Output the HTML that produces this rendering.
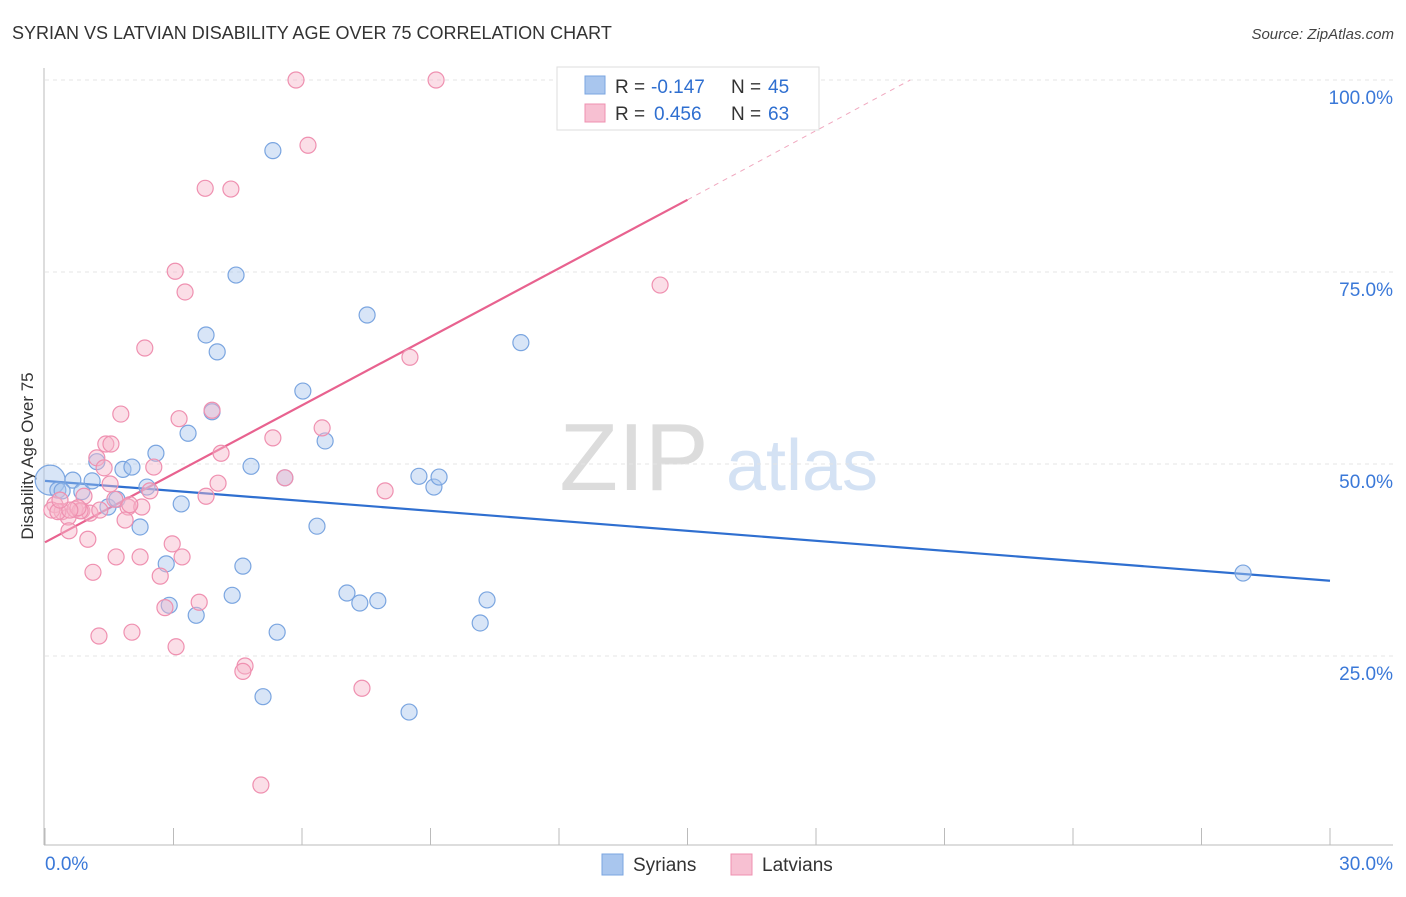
<!DOCTYPE html>
<html><head><meta charset="utf-8"><style>
body{margin:0;background:#fff;font-family:"Liberation Sans",sans-serif;}
svg text{font-family:"Liberation Sans",sans-serif;}
</style></head><body>
<svg id="chart" width="1406" height="892" viewBox="0 0 1406 892" xmlns="http://www.w3.org/2000/svg">
<text x="12" y="39" font-size="18" fill="#333">SYRIAN VS LATVIAN DISABILITY AGE OVER 75 CORRELATION CHART</text>
<text x="1394" y="39" font-size="15" fill="#444" text-anchor="end" font-style="italic">Source: ZipAtlas.com</text>
<text transform="translate(33,456) rotate(-90)" font-size="17" fill="#333" text-anchor="middle">Disability Age Over 75</text>
<g>
<text x="634" y="490" font-size="96" fill="#dcdcdc" text-anchor="middle" font-family="Liberation Serif, serif">ZIP</text>
<text x="802" y="490" font-size="72" fill="#d4e2f4" text-anchor="middle">atlas</text>
</g>
<g id="grid"></g><g id="axes"></g><g id="trend"></g><g id="points"></g>
<g>
<rect x="557" y="67" width="262" height="63" fill="#fff" stroke="#ddd"/>
<rect x="585" y="76" width="20" height="18" fill="#a9c6ee" stroke="#7aa5e0"/>
<rect x="585" y="104" width="20" height="18" fill="#f7c0d2" stroke="#ef90b0"/>
<text x="615" y="93" font-size="19" fill="#333">R =</text>
<text x="651" y="93" font-size="19" fill="#2f6fd0">-0.147</text>
<text x="731" y="93" font-size="19" fill="#333">N =</text>
<text x="768" y="93" font-size="19" fill="#2f6fd0">45</text>
<text x="615" y="120" font-size="19" fill="#333">R =</text>
<text x="654" y="120" font-size="19" fill="#2f6fd0">0.456</text>
<text x="731" y="120" font-size="19" fill="#333">N =</text>
<text x="768" y="120" font-size="19" fill="#2f6fd0">63</text>
</g>
<g>
<rect x="602" y="854" width="21" height="21" fill="#a9c6ee" stroke="#7aa5e0"/>
<text x="633" y="871" font-size="19" fill="#333">Syrians</text>
<rect x="731" y="854" width="21" height="21" fill="#f7c0d2" stroke="#ef90b0"/>
<text x="762" y="871" font-size="19" fill="#333">Latvians</text>
</g>
</svg>
<script>
const blueX=[0.12,0.30,0.65,0.86,1.10,1.21,1.47,1.68,1.82,2.03,2.22,2.38,2.59,2.83,2.90,3.18,3.34,3.53,3.76,3.90,4.02,4.37,4.46,4.62,4.81,5.09,5.32,5.42,5.60,6.02,6.35,6.54,7.05,7.35,7.52,7.77,8.50,8.73,9.08,9.20,10.16,10.32,11.11,27.97,0.40];
const blueY=[47.9,46.6,47.9,46.4,47.8,50.3,44.4,45.4,49.3,49.6,41.8,47.0,51.4,37.0,31.6,44.8,54.0,30.3,66.8,56.8,64.6,32.9,74.6,36.7,49.7,19.7,90.8,28.1,48.2,59.5,41.9,53.0,33.2,31.9,69.4,32.2,17.7,48.4,47.0,48.3,29.3,32.3,65.8,35.8,46.5];
const pinkX=[5.86,9.13,6.14,3.74,4.34,3.04,3.27,14.36,2.33,8.52,1.77,3.13,3.90,6.47,1.42,1.54,5.32,4.11,1.21,2.54,1.38,1.52,2.45,0.91,1.63,3.76,4.04,7.94,0.23,0.40,0.54,0.70,0.86,1.05,1.94,2.26,0.16,0.56,1.00,1.87,1.66,2.22,3.20,2.97,1.12,2.69,2.80,3.60,1.26,2.03,3.06,4.67,4.62,7.40,5.04,5.60,0.82,0.30,0.77,1.98,0.58,1.28,0.35];
const pinkY=[100,100,91.5,85.9,85.8,75.1,72.4,73.3,65.1,63.9,56.5,55.9,57.0,54.7,52.6,52.6,53.4,51.4,50.8,49.6,49.5,47.4,46.5,45.8,45.4,45.8,47.5,46.5,44.7,43.8,43.1,44.1,43.9,43.6,44.4,44.4,44.0,41.3,40.2,42.7,37.9,37.9,37.9,39.6,35.9,35.4,31.3,32.0,27.6,28.1,26.2,23.7,23.0,20.8,8.2,48.2,43.9,43.8,44.3,44.7,44.0,44.0,45.3];
const yTicks=[25,50,75,100];
const xTickLabels=["0.0%","30.0%"];
const blueTrend=[[0,47.8],[30,34.8]];
const pinkTrend=[[0,39.8],[15,84.4]];
const pinkTrendExt=[[15,84.4],[20.2,100]];
const NS="http://www.w3.org/2000/svg";
const xs=v=>45+v*(1285/30);
const ys=v=>80+(100-v)*7.68;
function mk(tag,parent,attrs){const e=document.createElementNS(NS,tag);for(const k in attrs)e.setAttribute(k,attrs[k]);document.getElementById(parent).appendChild(e);return e;}
yTicks.forEach(t=>{
  const l=mk('line','grid',{x1:45,x2:1393,y1:ys(t),y2:ys(t),stroke:'#e4e4e4','stroke-dasharray':'4,4'});
  
  
  const tx=mk('text','grid',{x:1393,y:ys(t)+24,'font-size':19,fill:'#3a78d8','text-anchor':'end'});
  tx.textContent=t.toFixed(1)+'%';
  
  
});
const ax=mk('line','axes',{x1:44,x2:44,y1:68,y2:845,stroke:'#bbb'});


const bx=mk('line','axes',{x1:44,x2:1393,y1:845,y2:845,stroke:'#bbb'});


for(let i=0;i<=10;i++){const v=i*3;const t=mk('line','axes',{x1:xs(v),x2:xs(v),y1:828,y2:845,stroke:'#bbb'});
  
  }
const xl0=mk('text','axes',{x:45,y:870,'font-size':19,fill:'#3a78d8'});xl0.textContent=xTickLabels[0];


const xl1=mk('text','axes',{x:1393,y:870,'font-size':19,fill:'#3a78d8','text-anchor':'end'});xl1.textContent=xTickLabels[1];


function pt(i,X,Y,fill,stroke,name){const c=mk('circle','points',{cx:xs(X[i]),cy:ys(Y[i]),r:8,fill:fill,'fill-opacity':0.45,stroke:stroke,'stroke-width':1.2});
  
  return c;}
blueX.forEach((v,i)=>{const c=pt(i,blueX,blueY,'#a9c6ee','#7aa5e0','syrian-point');if(i===0)c.setAttribute('r',15);});
pinkX.forEach((v,i)=>pt(i,pinkX,pinkY,'#f7b6c9','#ef90b0','latvian-point'));
const bl=mk('line','trend',{x1:xs(blueTrend[0][0]),y1:ys(blueTrend[0][1]),x2:xs(blueTrend[1][0]),y2:ys(blueTrend[1][1]),stroke:'#2f6fd0','stroke-width':2.2});


const pl=mk('line','trend',{x1:xs(pinkTrend[0][0]),y1:ys(pinkTrend[0][1]),x2:xs(pinkTrend[1][0]),y2:ys(pinkTrend[1][1]),stroke:'#e8628f','stroke-width':2.2});


const pe=mk('line','trend',{x1:xs(pinkTrendExt[0][0]),y1:ys(pinkTrendExt[0][1]),x2:xs(pinkTrendExt[1][0]),y2:ys(pinkTrendExt[1][1]),stroke:'#f0a8bf','stroke-width':1,'stroke-dasharray':'5,5'});


</script>
</body></html>
